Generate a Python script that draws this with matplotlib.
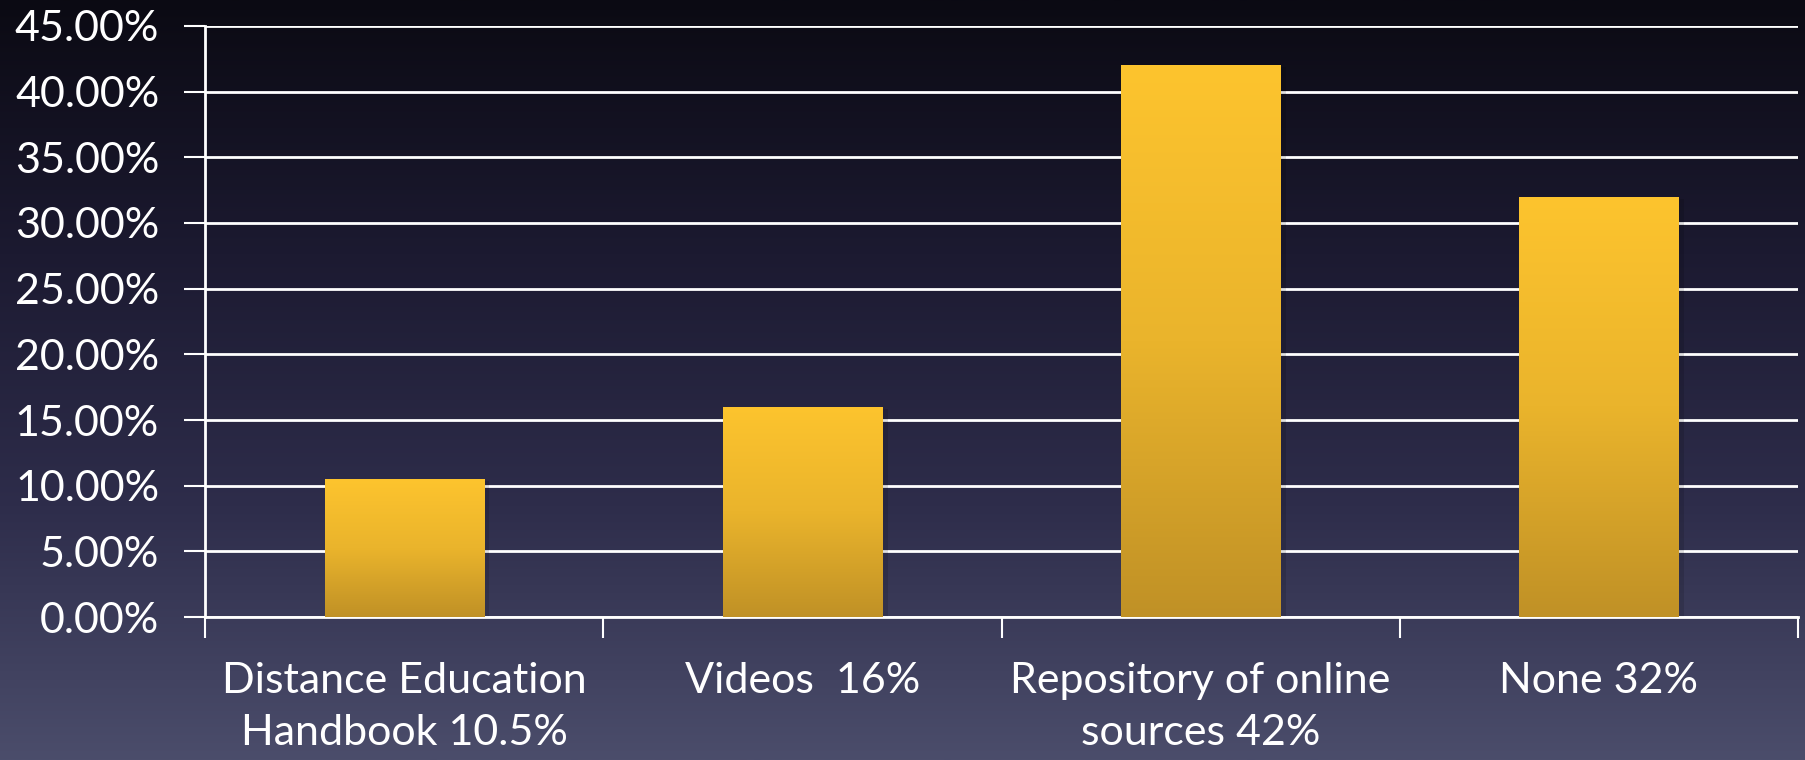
import numpy as np
import matplotlib.pyplot as plt
from matplotlib.colors import LinearSegmentedColormap

categories = ["Distance Education\nHandbook 10.5%", "Videos  16%",
              "Repository of online\nsources 42%", "None 32%"]
values = [10.5, 16, 42, 32]
yticks = [0, 5, 10, 15, 20, 25, 30, 35, 40, 45]

plt.rcParams['font.family'] = ['Lato', 'DejaVu Sans']

fig = plt.figure(figsize=(18.05, 7.6), dpi=100)

# background gradient over the whole figure
bg = fig.add_axes([0, 0, 1, 1], zorder=-10)
bgmap = LinearSegmentedColormap.from_list(
    "bg", ["#0b0a13", "#1c1a31", "#2e2d4b", "#4b4d6b"])
bg.imshow(np.linspace(0, 1, 256).reshape(-1, 1), aspect="auto",
          cmap=bgmap, extent=[0, 1, 0, 1])
bg.set_axis_off()

ax = fig.add_axes([0.1136, 0.188, 0.8825, 0.778])
ax.patch.set_alpha(0)

pos = np.arange(len(values)) + 0.5
bars = ax.bar(pos, values, width=0.4, color="none", zorder=3)

barmap = LinearSegmentedColormap.from_list("bar", ["#fdc42e", "#eab42c", "#c09126"])
grad = np.linspace(0, 1, 256).reshape(-1, 1)
for b in bars:
    x0, w, h = b.get_x(), b.get_width(), b.get_height()
    # soft shadow
    ax.bar(x0 + w / 2 + 0.008, h + 0.1, width=w + 0.012, bottom=-0.25,
           color="#000000", alpha=0.12, zorder=2.5)
    im = ax.imshow(grad, aspect="auto", cmap=barmap,
                   extent=[x0, x0 + w, 0, h], zorder=3)
    im.set_clip_path(b)

ax.set_xlim(0, 4)
ax.set_ylim(0, 45)
ax.set_yticks(yticks)
ax.set_yticklabels([f"{v:.2f}%" for v in yticks])
ax.yaxis.grid(True, color="white", lw=2, zorder=1)
ax.set_axisbelow(True)

ax.set_xticks(np.arange(0, 5))
ax.set_xticklabels([])
ax.set_xticks(pos, minor=True)
ax.set_xticklabels(categories, minor=True, linespacing=1.45)

ax.tick_params(axis="y", colors="white", length=15, width=1.5,
               labelsize=31, pad=18)
ax.tick_params(axis="x", which="major", colors="white", length=15, width=1.5)
ax.tick_params(axis="x", which="minor", colors="white", length=0,
               labelsize=31, pad=32)

for s in ["top", "right"]:
    ax.spines[s].set_visible(False)
for s in ["left", "bottom"]:
    ax.spines[s].set_color("white")
    ax.spines[s].set_linewidth(2)

fig.savefig("out.png", dpi=100)
